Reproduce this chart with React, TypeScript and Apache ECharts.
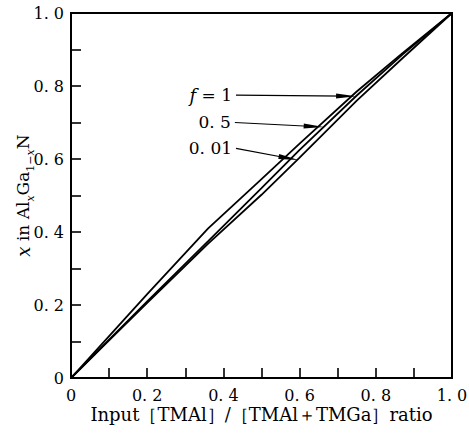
import React, { useEffect, useRef } from 'react';
import * as echarts from 'echarts';

// Input ratio grid (x) and solid composition (y) for each f
const xInput = [0, 0.1, 0.2, 0.36, 0.5, 0.6, 0.75, 0.87, 1];
const yF1 = [0, 0.115, 0.23, 0.41, 0.545, 0.642, 0.785, 0.89, 1];
const yF05 = [0, 0.105, 0.21, 0.375, 0.52, 0.625, 0.774, 0.886, 1];
const yF001 = [0, 0.103, 0.206, 0.368, 0.502, 0.604, 0.76, 0.876, 1];

const seriesNames = ['f=1', 'f=0.5', 'f=0.01'];
const tickLabels = ['0', '0. 2', '0. 4', '0. 6', '0. 8', '1. 0'];

// Annotation arrows: label text, start point, arrowhead centre (data coords)
const annoLabels = ['{i|f}{n| = 1}', '{n|0. 5}', '{n|0. 01}'];
const annoFrom = [[0.433, 0.775], [0.43, 0.70], [0.433, 0.629]];
const annoTo = [[0.722, 0.772], [0.637, 0.689], [0.571, 0.602]];

const SERIF = 'DejaVu Serif';

export default function App() {
  const ref = useRef<HTMLDivElement>(null);
  useEffect(() => {
    if (!ref.current) return;
    const chart = echarts.init(ref.current, undefined, { renderer: 'svg' });
    const fmt = (v: number) => {
      const k = Math.round(v * 10);
      if (k % 2) return '';
      return tickLabels[k / 2] ?? '';
    };
    const ys = [yF1, yF05, yF001];
    const axisCommon = {
      type: 'value' as const,
      min: 0,
      max: 1,
      interval: 0.1,
      axisLine: { show: true, lineStyle: { color: '#000', width: 2 } },
      axisTick: { show: true, inside: true, length: 10, lineStyle: { color: '#000', width: 1.6 } },
      splitLine: { show: false },
    };
    chart.setOption({
      animation: false,
      backgroundColor: '#fff',
      textStyle: { fontFamily: SERIF },
      grid: {
        left: 71, right: 17, top: 13, bottom: 56,
        outerBoundsMode: 'none',
        containLabel: false,
        show: true, borderColor: '#000', borderWidth: 2, backgroundColor: 'transparent',
      },
      xAxis: {
        ...axisCommon,
        axisLabel: { formatter: fmt, color: '#000', fontFamily: SERIF, fontSize: 16, margin: 9 },
        name: 'Input［TMAl］/［TMAl＋TMGa］ratio',
        nameLocation: 'middle',
        nameGap: 27,
        nameMoveOverlap: false,
        nameTextStyle: { color: '#000', fontFamily: SERIF, fontSize: 18, verticalAlign: 'top' },
      },
      yAxis: {
        ...axisCommon,
        axisLabel: { formatter: fmt, color: '#000', fontFamily: SERIF, fontSize: 16, margin: 7 },
        name: '{i|x}{t| in Al}{si|x}{t|Ga}{s|1−}{si|x}{t|N}',
        nameLocation: 'middle',
        nameRotate: 90,
        nameGap: 38,
        nameMoveOverlap: false,
        nameTextStyle: {
          color: '#000',
          fontFamily: SERIF,
          fontSize: 17,
          rich: {
            i: { fontFamily: SERIF, fontStyle: 'italic', fontSize: 18, color: '#000', lineHeight: 20 },
            t: { fontFamily: SERIF, fontSize: 17, color: '#000', lineHeight: 20 },
            s: { fontFamily: SERIF, fontSize: 11, color: '#000', lineHeight: 12, verticalAlign: 'bottom', padding: [0, 0, -3, 0] },
            si: { fontFamily: SERIF, fontStyle: 'italic', fontSize: 11, color: '#000', lineHeight: 12, verticalAlign: 'bottom', padding: [0, 0, -3, 0] },
          },
        },
      },
      series: seriesNames.map((name, idx) => ({
        name,
        type: 'line',
        data: xInput.map((x, j) => [x, ys[idx][j]]),
        showSymbol: false,
        symbol: 'none',
        lineStyle: { color: '#000', width: 1.8 },
        silent: true,
        markLine: {
          silent: true,
          animation: false,
          lineStyle: { color: '#000', width: 1.2, type: 'solid' },
          label: {
            show: true,
            position: 'start',
            distance: 4,
            formatter: annoLabels[idx],
            color: '#000',
            fontFamily: SERIF,
            rich: {
              i: { fontFamily: SERIF, fontStyle: 'italic', fontSize: 18, color: '#000' },
              n: { fontFamily: SERIF, fontSize: 17, color: '#000' },
            },
          },
          data: [[
            { coord: annoFrom[idx], symbol: 'none' },
            { coord: annoTo[idx], symbol: 'triangle', symbolSize: [5, 20] },
          ]],
        },
      })),
    });
    return () => chart.dispose();
  }, []);
  return <div ref={ref} style={{ width: 469, height: 434, position: 'absolute', left: 0, top: 0 }} />;
}
